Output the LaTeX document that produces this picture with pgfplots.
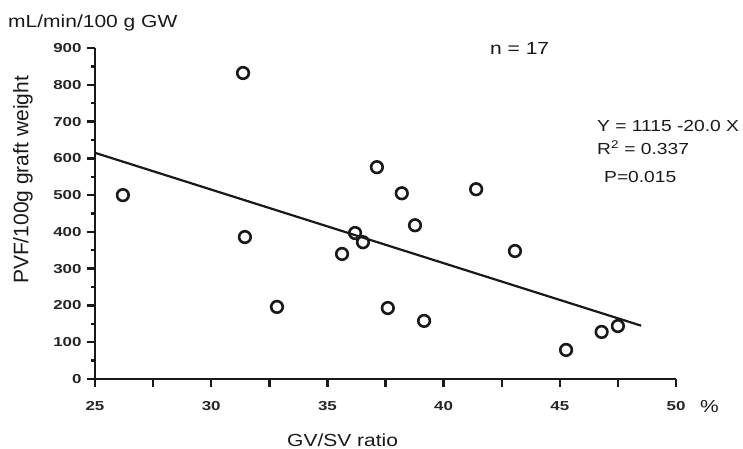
\documentclass[border=0pt]{standalone}
\usepackage{fontspec}
\setmainfont{Liberation Sans}[FakeStretch=1.2]
\newfontfamily\tickfont{Liberation Sans}[FakeStretch=1.3]
\newfontfamily\ylabfont{Liberation Sans}
\usepackage{pgfplots}
\pgfplotsset{compat=1.18}

\begin{document}
\begin{tikzpicture}
\begin{axis}[
  scale only axis, width=581pt, height=331pt,
  xmin=25, xmax=50, ymin=0, ymax=900,
  axis x line*=bottom, axis y line*=left,
  axis line style={line width=2.8pt, black!90},
  tick align=outside, tick style={line width=2.4pt, black!90},
  major tick length=8pt, minor tick length=4pt,
  xtick={25,27.5,...,50},
  xticklabels={25,,30,,35,,40,,45,,50},
  ytick={0,100,...,900},
  minor y tick num=1,
  ticklabel style={font=\tickfont\bfseries\fontsize{13}{13}\selectfont, black!85},
  xticklabel style={yshift=-11pt},
  yticklabel style={xshift=-2pt},
  /pgf/number format/assume math mode=true,
  clip=false,
]
\addplot[only marks, mark=o, mark size=5.8pt,
  mark options={line width=2.6pt, black!90}] coordinates {
  (26.2,500) (31.37,832) (31.45,386) (32.83,196) (35.63,340)
  (36.19,397) (36.53,372) (37.13,576) (38.2,505) (38.77,418)
  (37.6,193) (39.16,158) (41.4,516) (43.07,348) (45.27,79)
  (46.8,128) (47.5,144)};
\addplot[line width=2.2pt, black!90] coordinates {(25,615) (48.5,145)};
\end{axis}
\begin{scope}[every node/.style={inner sep=0pt, text=black!90}]
\node[anchor=base west, font=\fontsize{17.5}{18}\selectfont] at (-87pt,351pt) {mL/min/100 g GW};
\node[rotate=90, font=\ylabfont\fontsize{21}{22}\selectfont] at (-72pt,199pt) {PVF/100g graft weight};
\node[anchor=base west, font=\fontsize{17.5}{18}\selectfont] at (192pt,-67pt) {GV/SV ratio};
\node[anchor=base west, font=\fontsize{17.5}{18}\selectfont] at (605pt,-34pt) {\%};
\node[anchor=base west, font=\fontsize{17.5}{18}\selectfont] at (395pt,324pt) {n = 17};
\node[anchor=base west, font=\fontsize{16}{17}\selectfont] at (502pt,247pt) {Y = 1115 -20.0 X};
\node[anchor=base west, font=\fontsize{16}{17}\selectfont] at (502pt,224pt) {R\textsuperscript{2} = 0.337};
\node[anchor=base west, font=\fontsize{16}{17}\selectfont] at (509pt,196pt) {P=0.015};
\end{scope}
\pgfresetboundingbox
\useasboundingbox (-95pt,-70pt) rectangle (648pt,379pt);
\end{tikzpicture}
\end{document}
